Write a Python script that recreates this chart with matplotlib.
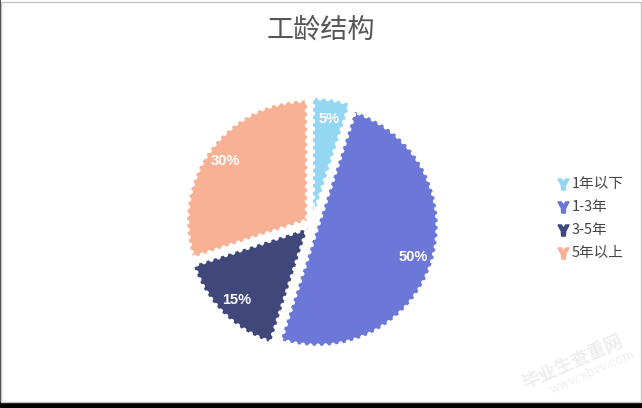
import matplotlib.pyplot as plt
from matplotlib.patches import Rectangle
from matplotlib.path import Path

plt.rcParams['font.family'] = ['Noto Sans CJK SC', 'DejaVu Sans']

# данные
labels = ['1年以下', '1-3年', '3-5年', '5年以上']
values = [5, 50, 15, 30]
colors = ['#95d6f3', '#6b78d8', '#40477a', '#f8b194']

W, H = 642, 408
fig = plt.figure(figsize=(W / 100, H / 100), dpi=100)
fig.patch.set_facecolor('white')

# рамка и чёрная полоса снизу
fig.patches.append(Rectangle((0, 0), 1, 6 / H, transform=fig.transFigure,
                             facecolor='black', edgecolor='none', zorder=-2))
fig.patches.append(Rectangle((1 / W, 6 / H), 1 - 2.5 / W, 1 - 7.5 / H,
                             transform=fig.transFigure, facecolor='white',
                             edgecolor='#c4c4c4', lw=1, zorder=-2))
fig.patches.append(Rectangle((0, 6 / H), 1.2 / W, 1 - 6 / H, transform=fig.transFigure,
                             facecolor='#555555', edgecolor='none', zorder=-2))

# круговая диаграмма: центр (312, 224) px, радиус 120 px
cx, cy, r, half = 312, 224, 120, 150
ax = fig.add_axes([(cx - half) / W, (H - cy - half) / H, 2 * half / W, 2 * half / H])
ax.set_zorder(2)
ax.set_xlim(-half / r, half / r)
ax.set_ylim(-half / r, half / r)
ax.set_aspect('equal')
ax.axis('off')

wedges, texts, autotexts = ax.pie(
    values, colors=colors, startangle=90, counterclock=False,
    explode=[0.05] * len(values), autopct='%d%%', pctdistance=0.84,
    textprops=dict(color='white', fontsize=10.5, fontweight='bold',
                   family=['Liberation Sans', 'DejaVu Sans']),
    wedgeprops=dict(edgecolor='white', linewidth=3.4,
                    linestyle=(0, (0.01, 1.6))))
for w in wedges:
    w.set_capstyle('round')

fig.text(321 / W, 1 - 30 / H, '工龄结构', ha='center', va='center',
         fontsize=19.5, color='#555555')

# легенда
icon = Path([(-0.9, 0.9), (-0.35, 0.9), (0, 0.35), (0.35, 0.9), (0.9, 0.9),
             (0.35, -0.1), (0.3, -0.9), (-0.3, -0.9), (-0.35, -0.1), (-0.9, 0.9)])
for i, (lab, col) in enumerate(zip(labels, colors)):
    y = 1 - (184 + 23 * i) / H
    fig.lines.append(plt.Line2D([563 / W], [y], transform=fig.transFigure,
                                marker=icon, markersize=8, color=col, lw=0))
    fig.text(572 / W, y, lab, ha='left', va='center', fontsize=10.5, color='#444444')

# водяной знак
fig.text(573 / W, 1 - 362 / H, '毕业生查重网', ha='center', va='center', rotation=24,
         fontsize=13, color='#eeeeee', fontweight='bold')
fig.text(592 / W, 1 - 372 / H, 'www.sbvv.com', ha='center', va='center', rotation=24,
         fontsize=9, color='#eeeeee', family=['DejaVu Serif'])

fig.savefig('out.png', dpi=100)
